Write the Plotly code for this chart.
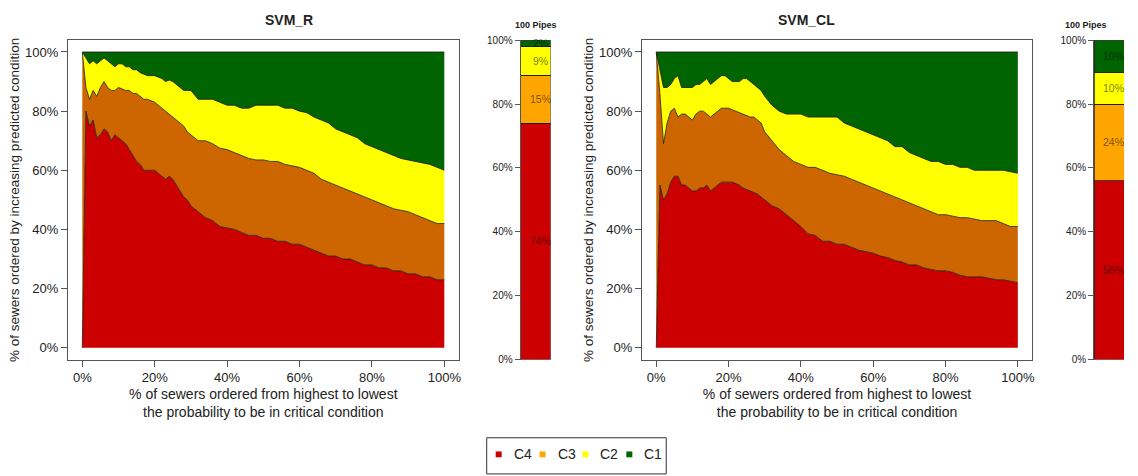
import plotly.graph_objects as go
import numpy as np

W, H = 1138, 476

CLASSES = ["C4", "C3", "C2", "C1"]
AREA_COLORS = ["#CC0000", "#CD6600", "#FFFF00", "#006400"]
BAR_COLORS = ["#CC0000", "#FFA500", "#FFFF00", "#006400"]

X = [0, 1, 2, 3, 4, 5, 6, 7, 8, 9, 10, 11, 12, 13, 14, 15, 16, 17, 18, 19, 20,
     21, 22, 23, 24, 25, 26, 27, 28, 29, 30,
     32, 34, 36, 38, 40, 42, 44, 46, 48, 50, 52, 54, 56, 58, 60, 62, 64, 66, 68, 70,
     72, 74, 76, 78, 80, 82, 84, 86, 88, 90, 92, 94, 96, 98, 100]

# SVM_R cumulative boundaries (top of C4, top of C4+C3, top of C4+C3+C2)
SVMR_C4_TOP = [0, 80, 75, 77, 71, 72, 74, 73, 70, 72, 71, 70, 69, 67, 65, 63, 62, 60, 60, 60, 60,
               59, 58, 57, 58, 57, 55, 53, 51, 50, 48,
               46, 44, 43, 41, 40.5, 40, 39, 38, 38, 37, 37, 36, 36, 35, 35, 34, 33, 32, 31, 31,
               30, 30, 29, 28, 28, 27, 27, 26, 26, 25, 25, 24, 24, 23, 23]
SVMR_C3_TOP = [100, 88, 84, 87, 85, 88, 90, 88, 87, 87, 88, 87.5, 87, 87, 86, 86, 85, 84, 84, 83.5, 83,
               82, 81, 80, 79, 78, 77, 76, 75, 73, 72,
               70, 70, 69, 67.5, 67, 66, 65, 64, 63.5, 63.5, 63, 63, 62, 61.5, 61, 60, 59, 57, 56, 55,
               54, 53, 52, 51, 50, 49, 48, 47, 46.5, 46, 45, 44, 43, 42, 42]
SVMR_C2_TOP = [100, 98, 96, 97, 96, 97, 98, 97, 96, 95, 96, 96, 95, 95, 94, 94, 93, 92.5, 92, 92, 92,
               91.5, 91, 90, 90.5, 90, 89, 88, 87, 87, 87,
               84, 84, 84, 83, 82, 82, 81, 81, 82, 82, 82, 82, 81, 81, 80, 79.5, 78, 77, 76, 74,
               73, 72, 71, 69, 68, 67, 66, 65, 64, 63.5, 63, 62.5, 62, 61, 60]

# SVM_CL cumulative boundaries
SVMCL_C4_TOP = [0, 55, 50, 52, 56, 58, 58, 55, 55, 54, 53, 53, 54, 54, 55, 53, 54, 55, 56, 56, 56,
                56, 55.5, 55, 54, 53.5, 53, 52.5, 52, 51, 50,
                48, 47, 45, 43, 41, 38.5, 38, 36, 36, 35, 35, 34, 33, 32.5, 32, 31, 30.5, 29.5, 29, 28,
                28, 27, 26.5, 26, 26, 25.5, 24.5, 24, 24, 24, 23.5, 23, 23, 22.5, 22]
SVMCL_C3_TOP = [100, 86, 69, 76, 80, 81, 78, 79, 79, 78, 77, 79, 80, 80, 79, 78, 79, 80, 81, 81, 81,
                80.5, 80, 79.5, 79, 78.5, 78, 78, 77, 76, 73,
                70, 67, 65, 63, 62, 61, 61, 60, 59, 58.5, 58, 57, 56, 55, 54, 53, 52, 51, 50, 49,
                48, 47, 46, 45, 45, 44.5, 44, 44, 43.5, 43, 43, 43, 42, 41, 41]
SVMCL_C2_TOP = [100, 94, 88, 88, 89, 91, 92, 88, 88, 88, 88, 89, 89, 90, 91, 89, 90, 91, 92, 92, 91,
                90, 90, 90, 91, 91, 90, 89, 88, 87, 85,
                82, 80, 79, 79, 79, 78, 78, 78, 78, 78, 76, 75, 74, 73, 72, 71, 70, 68, 68, 66,
                65, 64, 63, 63, 62, 62, 61, 61, 60, 60, 60, 60, 60, 59.5, 59]

# 100 Pipes bars (share of each class, %)
SVMR_PIPES = [74, 15, 9, 2]
SVMCL_PIPES = [56, 24, 10, 10]

TITLES = ["SVM_R", "SVM_CL"]
BAR_TITLE = "100 Pipes"
Y_TITLE = "% of sewers ordered by increasing predicted condition"
X_TITLE = "% of sewers ordered from highest to lowest<br>the probability to be in critical condition"
TICKS = [0, 20, 40, 60, 80, 100]

FONT = "Liberation Sans, Arial, sans-serif"


def px_x(p):
    return p / W


def px_y(p):
    return 1 - p / H


fig = go.Figure()

panels = [
    dict(data=[SVMR_C4_TOP, SVMR_C3_TOP, SVMR_C2_TOP], pipes=SVMR_PIPES,
         main=(68, 460), bar=(522, 552), xa="x", ya="y", xb="x2", yb="y2"),
    dict(data=[SVMCL_C4_TOP, SVMCL_C3_TOP, SVMCL_C2_TOP], pipes=SVMCL_PIPES,
         main=(643.5, 1035), bar=(1097, 1127), xa="x3", ya="y3", xb="x4", yb="y4"),
]

for pi, p in enumerate(panels):
    tops = p["data"] + [[100] * len(X)]
    for k, (cls, col, top) in enumerate(zip(CLASSES, AREA_COLORS, tops)):
        fig.add_trace(go.Scatter(
            x=X, y=top, mode="lines", xaxis=p["xa"], yaxis=p["ya"],
            line=dict(color="#1a1a1a", width=0.8),
            fill="tozeroy" if k == 0 else "tonexty", fillcolor=col,
            showlegend=False, hoverinfo="skip", name=cls))
    cum = np.cumsum(p["pipes"])
    for k, (cls, col, v) in enumerate(zip(CLASSES, BAR_COLORS, p["pipes"])):
        fig.add_trace(go.Bar(
            x=[0], y=[v], xaxis=p["xb"], yaxis=p["yb"], width=1,
            marker=dict(color=col, line=dict(color="#1a1a1a", width=0.8)),
            showlegend=False, hoverinfo="skip", name=cls))
        fig.add_annotation(x=0.15, y=cum[k] - v / 2, xref=p["xb"], yref=p["yb"],
                           text=f"{v}%", showarrow=False,
                           font=dict(family=FONT, size=10.5, color="rgba(0,0,0,0.55)"))

ydom = [px_y(363), px_y(36)]
axis_font = dict(family=FONT, size=13, color="#222")
main_common = dict(range=[-4, 104], showgrid=False, zeroline=False, showline=True,
                   linecolor="#555", linewidth=1, mirror=True, ticks="outside",
                   ticklen=6, tickcolor="#555", tickvals=TICKS,
                   ticktext=[f"{t}%" for t in TICKS], tickfont=axis_font)
bar_y = dict(range=[0, 100], showgrid=False, zeroline=False, showline=True,
             linecolor="#555", linewidth=1, ticks="outside", ticklen=5, tickcolor="#555",
             tickvals=TICKS, ticktext=[f"{t}%" for t in TICKS],
             tickfont=dict(family=FONT, size=10, color="#222"))
bar_x = dict(range=[-0.5, 0.5], visible=False)

layout = dict(
    width=W, height=H, margin=dict(l=0, r=0, t=0, b=0),
    paper_bgcolor="white", plot_bgcolor="white", barmode="stack",
    font=dict(family=FONT, color="#222"),
    showlegend=False,
)
for p, (xa, ya, xb, yb) in zip(panels, [("xaxis", "yaxis", "xaxis2", "yaxis2"),
                                        ("xaxis3", "yaxis3", "xaxis4", "yaxis4")]):
    layout[xa] = dict(main_common, domain=[px_x(p["main"][0]), px_x(p["main"][1])],
                      anchor=p["ya"],
                      title=dict(text=X_TITLE, font=dict(family=FONT, size=14, color="#222"),
                                 standoff=4))
    layout[ya] = dict(main_common, domain=ydom, anchor=p["xa"],
                      title=dict(text=Y_TITLE, font=dict(family=FONT, size=13.5, color="#222"),
                                 standoff=2))
    layout[xb] = dict(bar_x, domain=[px_x(p["bar"][0]), px_x(p["bar"][1])], anchor=p["yb"])
    layout[yb] = dict(bar_y, domain=ydom, anchor=p["xb"])

fig.update_layout(**layout)

for p, t in zip(panels, TITLES):
    cx = (p["main"][0] + p["main"][1]) / 2
    fig.add_annotation(x=px_x(cx), y=px_y(15), xref="paper", yref="paper", text=f"<b>{t}</b>",
                       showarrow=False, yanchor="middle",
                       font=dict(family=FONT, size=14, color="#222"))
    bx = (p["bar"][0] + p["bar"][1]) / 2
    fig.add_annotation(x=px_x(bx), y=px_y(20), xref="paper", yref="paper",
                       text=f"<b>{BAR_TITLE}</b>", showarrow=False, yanchor="middle",
                       font=dict(family=FONT, size=9, color="#222"))

# legend: framed box with coloured squares and class labels
LEG_MARK_X = [500, 544, 587, 631]
LEG_Y = 460
fig.add_shape(type="rect", xref="paper", yref="paper",
              x0=px_x(488), x1=px_x(668), y0=px_y(480), y1=px_y(443),
              line=dict(color="#333", width=1), fillcolor="rgba(0,0,0,0)")
for cls, col, mx in zip(CLASSES, BAR_COLORS, LEG_MARK_X):
    fig.add_shape(type="rect", xref="paper", yref="paper",
                  x0=px_x(mx - 3), x1=px_x(mx + 3), y0=px_y(LEG_Y + 3), y1=px_y(LEG_Y - 3),
                  line=dict(width=0), fillcolor=col)
    fig.add_annotation(x=px_x(mx + 13), y=px_y(LEG_Y), xref="paper", yref="paper",
                       text=cls, showarrow=False, xanchor="left", yanchor="middle",
                       font=dict(family=FONT, size=14, color="#222"))

fig.write_html("out.html")
